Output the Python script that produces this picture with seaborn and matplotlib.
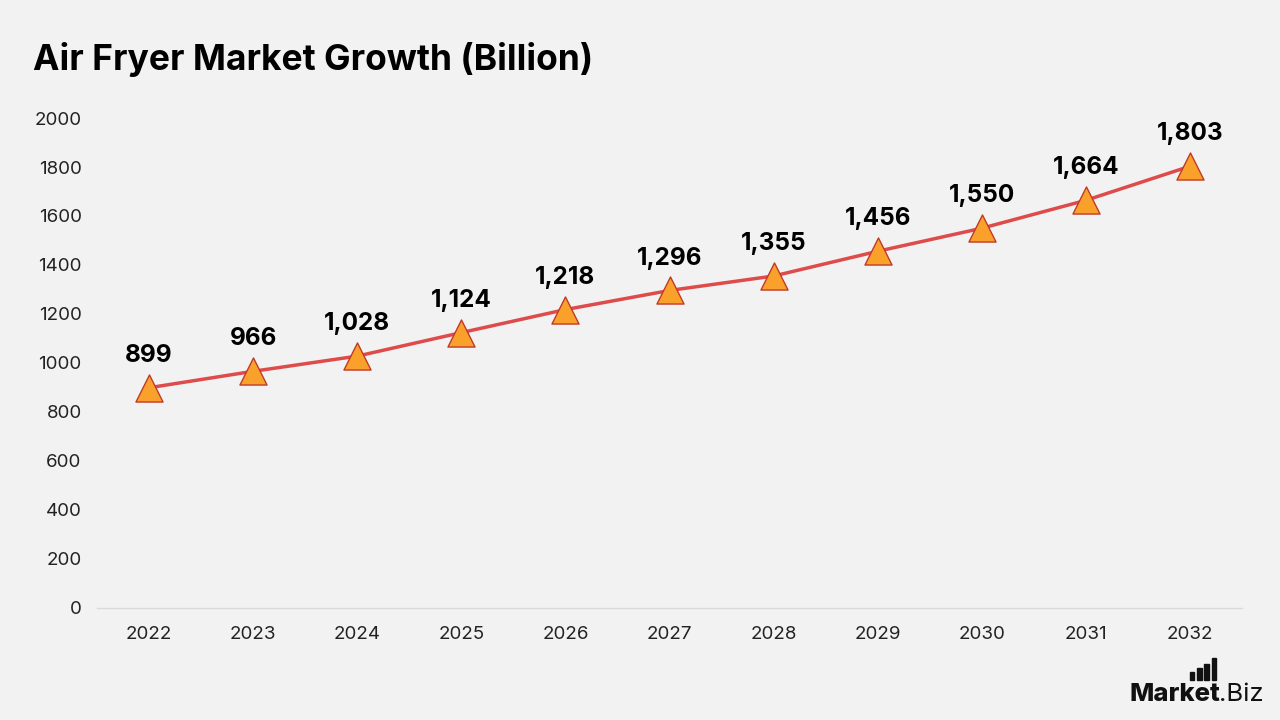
import matplotlib
matplotlib.use("Agg")
import matplotlib.pyplot as plt
import seaborn as sns
import pandas as pd
from matplotlib.patches import Rectangle

years = ["2022", "2023", "2024", "2025", "2026", "2027", "2028", "2029", "2030", "2031", "2032"]
values = [899, 966, 1028, 1124, 1218, 1296, 1355, 1456, 1550, 1664, 1803]
yticks = [0, 200, 400, 600, 800, 1000, 1200, 1400, 1600, 1800, 2000]

sns.set_style("white")
plt.rcParams['font.family'] = ['Inter', 'DejaVu Sans']

bg = "#f2f2f2"
fig = plt.figure(figsize=(12.8, 7.2), dpi=100, facecolor=bg)
ax = fig.add_axes([0.0758, 0.1556, 0.8945, 0.6805], facecolor=bg)

df = pd.DataFrame({"year": years, "value": values})
df["pos"] = range(len(years))
sns.lineplot(data=df, x="pos", y="value", ax=ax, color="#de4b4b", linewidth=2.5, zorder=2)
ax.scatter(df["pos"], df["value"], marker="^", s=380, color="#f9a12a",
           edgecolor="#c0392b", linewidth=1, zorder=3)

for p, v in zip(df["pos"], df["value"]):
    ax.annotate(f"{v:,}", (p, v), xytext=(0, 15), textcoords="offset points",
                ha="center", va="bottom", fontsize=17.5, fontweight="bold", color="#000000")

ax.set_xlim(-0.5, len(years) - 0.5)
ax.set_ylim(0, 2000)
ax.set_xticks(df["pos"])
ax.set_xticklabels(years)
ax.set_yticks(yticks)
ax.set_yticklabels([str(t) for t in yticks])
ax.tick_params(axis="both", length=0, labelsize=13.5, colors="#222222")
ax.tick_params(axis="x", pad=13)
ax.tick_params(axis="y", pad=11)
ax.set_xlabel("")
ax.set_ylabel("")
for s in ["top", "right", "left"]:
    ax.spines[s].set_visible(False)
ax.spines["bottom"].set_color("#d9d9d9")
ax.spines["bottom"].set_linewidth(1)

fig.text(0.026, 0.918, "Air Fryer Market Growth (Billion)", fontsize=25.5, fontweight="bold",
         color="#000000", ha="left", va="center")

# logo
fig.text(0.8828, 0.027, "Market", fontsize=18.5, fontweight="heavy", color="#111111", ha="left", va="baseline")
fig.text(0.9525, 0.027, ".Biz", fontsize=18.5, fontweight="normal", color="#111111", ha="left", va="baseline")
for i, h in enumerate([0.010, 0.016, 0.022, 0.030]):
    fig.patches.append(Rectangle((0.9300 + i * 0.0055, 0.056), 0.0032, h,
                                 transform=fig.transFigure, color="#111111"))

fig.savefig("out.png", dpi=100, facecolor=bg)
